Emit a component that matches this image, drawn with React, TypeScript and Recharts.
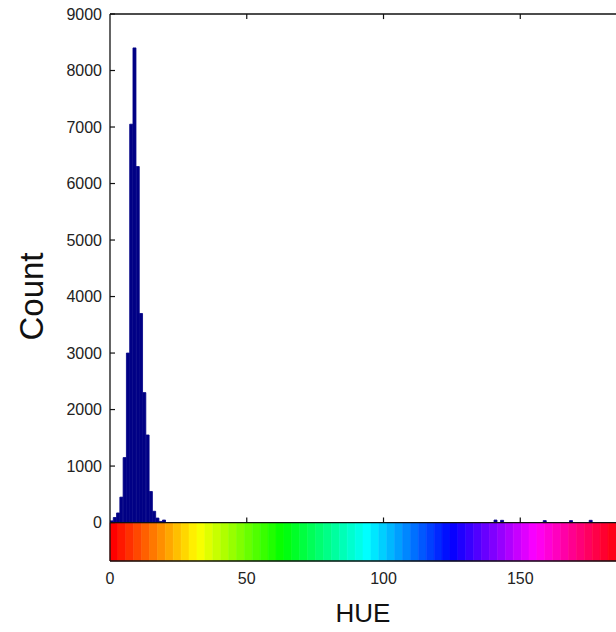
import React from "react";
import {
  ComposedChart,
  Bar,
  XAxis,
  YAxis,
  ReferenceArea,
  ReferenceLine,
  Label,
} from "recharts";

// histogram bins (bin centres, width 1.2) and their counts
const hueBins = [
  0.6, 1.8, 3.0, 4.2, 5.4, 6.6, 7.8, 9.0, 10.2, 11.4, 12.6, 13.8, 15.0, 16.2,
  17.4, 18.6, 19.8, 141.0, 143.4, 159.0, 168.6, 175.8,
];
const counts = [
  30, 90, 170, 450, 1150, 3000, 7050, 8400, 6300, 3700, 2300, 1550, 550, 200,
  80, 20, 45, 45, 40, 35, 35, 40,
];

const xTicks = [0, 50, 100, 150];
const yTicks = [0, 1000, 2000, 3000, 4000, 5000, 6000, 7000, 8000, 9000];

const hueMax = 185;
const yMin = -680;
const yMax = 9000;
const bandCount = 64; // hsv colormap steps

const data = hueBins.map((hue, i) => ({ hue, count: counts[i] }));

const bands = Array.from({ length: bandCount }, (_, i) => ({
  x1: (i * hueMax) / bandCount,
  x2: ((i + 1) * hueMax) / bandCount,
  color: `hsl(${(i * 360) / bandCount}, 100%, 50%)`,
}));

const font = "'Liberation Sans', Arial, Helvetica, sans-serif";
const ink = "#111";
const barColor = "#000085";

const YTick = (props: any) => {
  const { x, y, payload } = props;
  return (
    <text x={x} y={y} dy={5.5} textAnchor="end" fontSize={16} fontFamily={font} fill="#222">
      {payload.value}
    </text>
  );
};

const XTick = (props: any) => {
  const { x, y, payload } = props;
  return (
    <text x={x} y={y} dy={23} textAnchor="middle" fontSize={16} fontFamily={font} fill="#222">
      {payload.value}
    </text>
  );
};

const CountLabel = (props: any) => {
  const { viewBox } = props;
  const cx = viewBox.x + 31;
  const cy = viewBox.y + viewBox.height / 2 + 9;
  return (
    <text
      x={cx}
      y={cy}
      transform={`rotate(-90 ${cx} ${cy})`}
      textAnchor="middle"
      dominantBaseline="central"
      fontSize={33}
      fontFamily={font}
      fill={ink}
    >
      Count
    </text>
  );
};

const HueChart = () => {
  return (
    <div style={{ position: "absolute", left: 0, top: 0, background: "#fff" }}>
      <ComposedChart
        width={616}
        height={632}
        data={data}
        margin={{ top: 14, right: 0, left: 0, bottom: 0 }}
        barCategoryGap={0}
        barGap={0}
      >
        <XAxis
          dataKey="hue"
          type="number"
          domain={[0, hueMax]}
          ticks={xTicks}
          allowDataOverflow
          height={71}
          tickLine={false}
          tickSize={0}
          tickMargin={0}
          tick={<XTick />}
          axisLine={{ stroke: ink, strokeWidth: 1.3 }}
        >
          <Label
            value="HUE"
            position="insideBottom"
            offset={10}
            fontSize={26}
            fontFamily={font}
            fill={ink}
          />
        </XAxis>
        <YAxis
          type="number"
          domain={[yMin, yMax]}
          ticks={yTicks}
          interval={0}
          allowDataOverflow
          width={110}
          tickSize={-5}
          tickMargin={13}
          tick={<YTick />}
          tickLine={{ stroke: ink, strokeWidth: 1.2 }}
          axisLine={{ stroke: ink, strokeWidth: 1.3 }}
        >
          <Label content={<CountLabel />} />
        </YAxis>

        {bands.map((b, i) => (
          <ReferenceArea
            key={i}
            x1={b.x1}
            x2={b.x2}
            y1={yMin}
            y2={0}
            fill={b.color}
            fillOpacity={1}
            stroke={b.color}
            strokeWidth={0.6}
          />
        ))}

        <Bar
          dataKey="count"
          fill={barColor}
          stroke={barColor}
          strokeWidth={0.8}
          isAnimationActive={false}
        />

        <ReferenceLine y={0} stroke={ink} strokeWidth={1.3} />
        <ReferenceLine y={yMax} stroke={ink} strokeWidth={1.3} />
        {xTicks.slice(1).map((t) => (
          <ReferenceLine
            key={"b" + t}
            segment={[
              { x: t, y: 0 },
              { x: t, y: 90 },
            ]}
            stroke={ink}
            strokeWidth={1.2}
          />
        ))}
        {xTicks.slice(1).map((t) => (
          <ReferenceLine
            key={"t" + t}
            segment={[
              { x: t, y: yMax },
              { x: t, y: yMax - 90 },
            ]}
            stroke={ink}
            strokeWidth={1.2}
          />
        ))}
      </ComposedChart>
    </div>
  );
};

export default function App() {
  return <HueChart />;
}
